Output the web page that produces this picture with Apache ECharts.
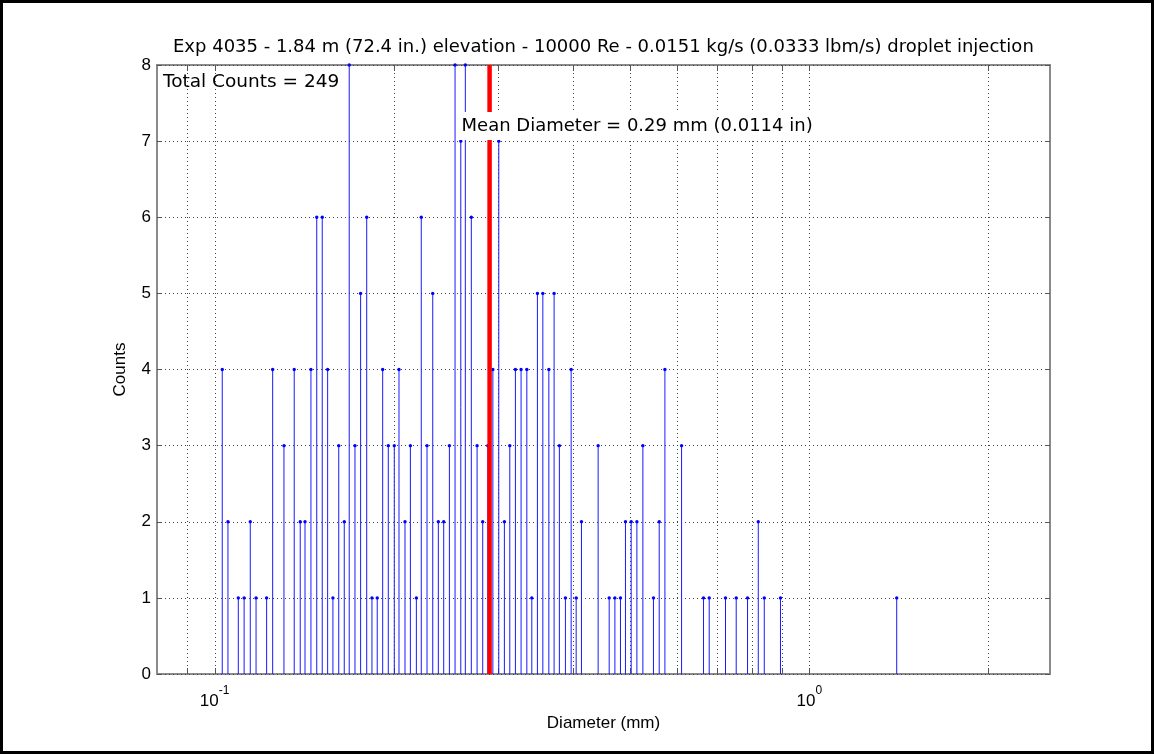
<!DOCTYPE html>
<html>
<head>
<meta charset="utf-8">
<script src="https://cdn.jsdelivr.net/npm/echarts@6/dist/echarts.min.js"></script>
<style>
html,body{margin:0;padding:0;background:#fff;}
#c{position:absolute;left:0;top:0;width:1154px;height:754px;}
#frame{position:absolute;left:0;top:0;width:1154px;height:754px;box-sizing:border-box;border:3px solid #000;pointer-events:none;}
</style>
</head>
<body>
<div id="c"></div>
<div id="frame"></div>
<script>
// ---- data ----
const diameters = [
  0.1030,0.1053,0.1096,0.1121,0.1148,0.1174,0.1223,0.1252,0.1308,0.1361,
  0.1393,0.1419,0.1452,0.1485,0.1517,0.1549,0.1581,0.1617,0.1652,0.1684,
  0.1722,0.1760,0.1802,0.1839,0.1877,0.1917,0.1959,0.2005,0.2042,0.2090,
  0.2134,0.2184,0.2226,0.2276,0.2327,0.2378,0.2428,0.2482,0.2537,0.2594,
  0.2640,0.2702,0.2763,0.2824,0.2880,0.2937,0.3005,0.3071,0.3136,0.3205,
  0.3276,0.3350,0.3415,0.3490,0.3564,0.3648,0.3723,0.3800,0.3890,0.3977,
  0.4055,0.4139,0.4415,0.4608,0.4711,0.4814,0.4908,0.5018,0.5130,0.5250,
  0.5470,0.5593,0.5718,0.6099,0.6640,0.6788,0.7230,0.7536,0.7874,0.8208,
  0.8401,0.8945,1.403
];
const counts = [
  4,2,1,1,2,1,1,4,3,4,
  2,2,4,6,6,4,1,3,2,8,
  3,5,6,1,1,4,3,3,4,2,
  3,1,6,3,5,2,2,3,8,7,
  8,6,3,2,3,4,7,2,3,4,
  4,4,1,5,5,4,5,3,1,4,
  1,2,3,1,1,1,2,2,2,3,
  1,2,4,3,1,1,1,1,1,2,
  1,1,1
];
const xGridValues = [0.09,0.1,0.2,0.3,0.4,0.5,0.6,0.7,0.8,0.9,1,2];
const meanDiameter = 0.29;
const titleText = 'Exp 4035 - 1.84 m (72.4 in.) elevation - 10000 Re - 0.0151 kg/s (0.0333 lbm/s) droplet injection';
const meanText = 'Mean Diameter = 0.29 mm (0.0114 in)';
const totalText = 'Total Counts = 249';
const xMin = 0.08, xMax = 2.54, yMin = 0, yMax = 8;

const FONT = 'Liberation Sans, Arial, Helvetica, sans-serif';
const WFONT = 'DejaVu Sans, Verdana, sans-serif';
const chart = echarts.init(document.getElementById('c'), null, {renderer:'canvas'});

const stemData = diameters.map((d,i)=>[d, counts[i]]);

const option = {
  animation:false,
  backgroundColor:'#fff',
  title:{
    text:titleText, left:168, top:33,
    textStyle:{fontFamily:WFONT, fontSize:18, fontWeight:'normal', color:'#000'}
  },
  grid:{left:157, top:65, right:104, bottom:80, show:true, borderColor:'#8a8a8a', borderWidth:2, backgroundColor:'#fff'},
  xAxis:[{
    type:'log', logBase:10, min:xMin, max:xMax,
    name:'Diameter (mm)', nameLocation:'middle', nameGap:33,
    nameTextStyle:{fontFamily:FONT, fontSize:17, color:'#000'},
    axisLine:{show:false}, axisTick:{show:false}, splitLine:{show:false}, minorTick:{show:false},
    axisLabel:{
      showMinLabel:false, showMaxLabel:false, margin:11, color:'#000',
      formatter:function(v){
        const l = Math.log10(v);
        if (Math.abs(l-Math.round(l))<1e-6) return '{b|10}{s|' + Math.round(l) + '}';
        return '';
      },
      rich:{
        b:{fontFamily:FONT, fontSize:17, color:'#000', lineHeight:25, verticalAlign:'bottom'},
        s:{fontFamily:FONT, fontSize:12, color:'#000', verticalAlign:'top'}
      }
    }
  }],
  yAxis:[{
    type:'value', min:yMin, max:yMax, interval:1,
    name:'Counts', nameLocation:'middle', nameGap:28, nameRotate:90,
    nameTextStyle:{fontFamily:FONT, fontSize:17, color:'#000'},
    axisLine:{show:false},
    axisTick:{show:true, inside:true, length:5, lineStyle:{color:'#555', width:1}},
    axisLabel:{fontFamily:FONT, fontSize:17, color:'#000', margin:6},
    splitLine:{show:true, lineStyle:{color:'#444', width:1, type:[1,3]}}
  },{
    type:'value', min:yMin, max:yMax, interval:1, position:'right',
    axisLine:{show:false},
    axisTick:{show:true, inside:true, length:5, lineStyle:{color:'#555', width:1}},
    axisLabel:{show:false}, splitLine:{show:false}
  }],
  graphic:[{
    type:'text', left:163, top:73,
    style:{text:totalText, font:'18.5px ' + WFONT, fill:'#000'}
  }],
  series:[
    {
      name:'grid', type:'custom', z:1, silent:true, clip:false,
      data:xGridValues.map(v=>[v,0]),
      encode:{x:0,y:1},
      renderItem:function(params, api){
        const b = api.coord([api.value(0), yMin]);
        const t = api.coord([api.value(0), yMax]);
        const x = Math.round(b[0]) + 0.5;
        return {type:'group', children:[
          {type:'line', shape:{x1:x,y1:b[1],x2:x,y2:t[1]}, style:{stroke:'#444', lineWidth:1, lineDash:[1,3]}},
          {type:'line', shape:{x1:x,y1:b[1],x2:x,y2:b[1]-6}, style:{stroke:'#555', lineWidth:1}},
          {type:'line', shape:{x1:x,y1:t[1],x2:x,y2:t[1]+6}, style:{stroke:'#555', lineWidth:1}}
        ]};
      }
    },
    {
      name:'Counts', type:'custom', z:3, clip:false,
      data:stemData,
      encode:{x:0,y:1},
      renderItem:function(params, api){
        const top = api.coord([api.value(0), api.value(1)]);
        const base = api.coord([api.value(0), 0]);
        return {type:'group', children:[
          {type:'line', shape:{x1:top[0],y1:top[1],x2:base[0],y2:base[1]}, style:{stroke:'#1a1aff', lineWidth:1}},
          {type:'circle', shape:{cx:top[0], cy:top[1], r:1.7}, style:{fill:'#0000ff'}}
        ]};
      }
    },
    {
      name:'Mean', type:'line', z:4, symbol:'none',
      data:[[meanDiameter,yMin],[meanDiameter,yMax]],
      lineStyle:{color:'#ff0000', width:4.5}
    },
    {
      name:'MeanLabel', type:'custom', z:6, clip:false, silent:true,
      data:[[meanDiameter, 7.2]],
      encode:{x:0,y:1},
      renderItem:function(params, api){
        const p = api.coord([api.value(0), api.value(1)]);
        return {type:'text', x:p[0]-31, y:p[1], z2:10,
          style:{text:meanText, font:'18px ' + WFONT, fill:'#000', verticalAlign:'middle',
            backgroundColor:'#fff', padding:[5,3,5,3]}};
      }
    }
  ]
};
chart.setOption(option);
</script>
</body>
</html>
